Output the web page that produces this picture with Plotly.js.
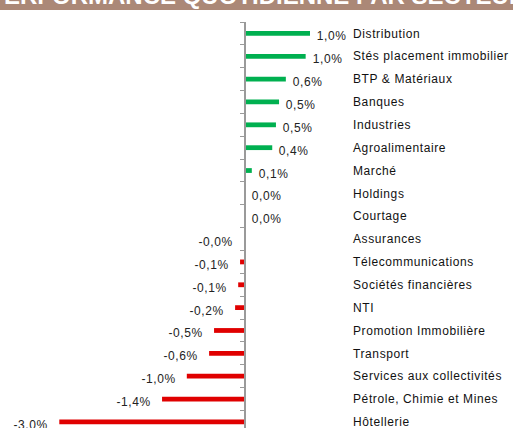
<!DOCTYPE html>
<html>
<head>
<meta charset="utf-8">
<script src="https://cdn.plot.ly/plotly-3.0.1.min.js"></script>
<style>
html,body{margin:0;padding:0;background:#fff;}
#chart{width:513px;height:428px;}
.js-plotly-plot .ytick text { letter-spacing: 0.6px; }
</style>
</head>
<body>
<div id="chart"></div>
<script>
const titleText = "PERFORMANCE QUOTIDIENNE PAR SECTEUR";
const categories = ["Distribution","Stés placement immobilier","BTP & Matériaux","Banques","Industries","Agroalimentaire","Marché","Holdings","Courtage","Assurances","Télecommunications","Sociétés financières","NTI","Promotion Immobilière","Transport","Services aux collectivités","Pétrole, Chimie et Mines","Hôtellerie"];
const values = [1.05, 0.98, 0.66, 0.55, 0.50, 0.44, 0.11, 0.0, 0.0, -0.01, -0.08, -0.11, -0.16, -0.50, -0.58, -0.94, -1.34, -3.0];
const valueLabels = ["1,0%","1,0%","0,6%","0,5%","0,5%","0,4%","0,1%","0,0%","0,0%","-0,0%","-0,1%","-0,1%","-0,2%","-0,5%","-0,6%","-1,0%","-1,4%","-3,0%"];

const W = 513, H = 428, T = 22, B = 0;
const zeroPx = 245, pxPerUnit = 61.9;
const labelPx = 352;
const bandPx = 22.85;
const plotH = H - T - B;
const span = plotH / bandPx;
const yRange = [span - 0.5, -0.5];
const xRange = [-zeroPx / pxPerUnit, (W - zeroPx) / pxPerUnit];

const font = "Liberation Sans, Arial, sans-serif";

const bars = {
  type: "bar", orientation: "h",
  x: values, y: categories,
  width: 0.21,
  marker: {color: values.map(v => v >= 0 ? "#00B050" : "#E00000")},
  hoverinfo: "skip",
  yaxis: "y"
};
const axisHelper = {
  type: "scatter", mode: "markers",
  x: values, y: categories,
  marker: {opacity: 0, size: 1},
  hoverinfo: "skip", showlegend: false,
  yaxis: "y2"
};

const annotations = values.map((v, i) => ({
  x: v, y: categories[i], xref: "x", yref: "y",
  text: valueLabels[i], showarrow: false,
  xanchor: v >= 0 ? "left" : "right",
  xshift: v >= 0 ? 6 : -10, yshift: -3,
  font: {family: font, size: 12, color: "#222"}
}));
annotations.push({
  x: 0.5, y: (H - 11) / plotH, xref: "paper", yref: "paper",
  text: "<b>" + titleText + "</b>", showarrow: false,
  xanchor: "center", yanchor: "bottom",
  font: {family: font, size: 24, color: "#ffffff"}
});

const layout = {
  width: W, height: H,
  margin: {l: 0, r: 0, t: T, b: B, pad: 0},
  paper_bgcolor: "#ffffff", plot_bgcolor: "#ffffff",
  showlegend: false,
  xaxis: {range: xRange, visible: false, fixedrange: true},
  yaxis: {
    type: "category", categoryorder: "array", categoryarray: categories,
    range: yRange, anchor: "free", position: labelPx / W, side: "right",
    showline: false, showgrid: false, zeroline: false, ticks: "",
    ticklabelshift: -2.5,
    tickfont: {family: font, size: 12, color: "#111"}
  },
  yaxis2: {
    type: "category", categoryorder: "array", categoryarray: categories,
    range: yRange, overlaying: "y", anchor: "free", position: zeroPx / W, side: "left",
    showline: true, linecolor: "#9a9a9a", linewidth: 2,
    showgrid: false, zeroline: false,
    ticks: "outside", tickson: "boundaries", ticklen: 4, tickwidth: 1, tickcolor: "#9a9a9a",
    showticklabels: false
  },
  shapes: [{
    type: "rect", xref: "paper", yref: "paper",
    x0: 0, x1: 1, y0: (H - 10) / plotH, y1: H / plotH,
    fillcolor: "#AB8877", line: {width: 0}, layer: "below"
  }],
  annotations: annotations
};

Plotly.newPlot("chart", [bars, axisHelper], layout, {displayModeBar: false, staticPlot: true}).then(() => {
  document.querySelectorAll("#chart .annotation-text").forEach(t => {
    if (t.textContent.indexOf("%") >= 0) t.style.letterSpacing = "0.6px";
  });
});
</script>
</body>
</html>
